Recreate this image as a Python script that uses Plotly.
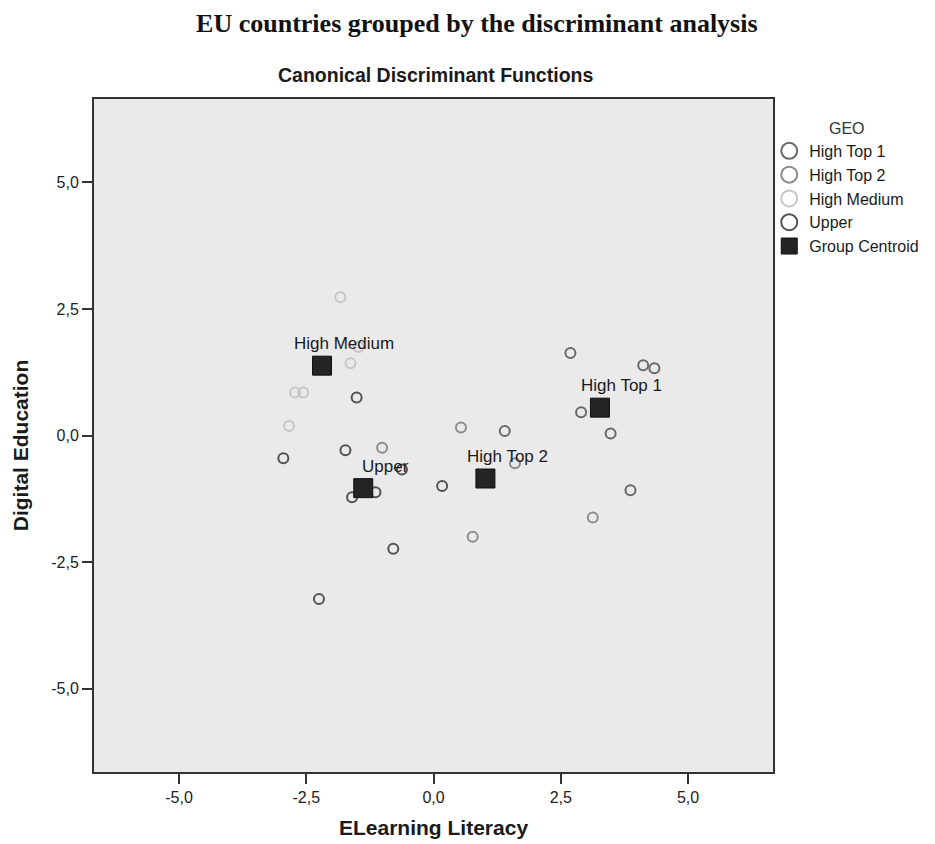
import plotly.graph_objects as go

# ---- data ----
groups = ["High Top 1", "High Top 2", "High Medium", "Upper"]

ht1_x = [2.69, 4.12, 4.34, 2.90, 3.48, 3.87, 1.40]
ht1_y = [1.63, 1.39, 1.33, 0.46, 0.04, -1.08, 0.09]

ht2_x = [-1.01, 0.54, 1.60, 0.77, 3.13]
ht2_y = [-0.24, 0.16, -0.55, -2.00, -1.62]

hm_x = [-1.83, -1.63, -1.47, -2.72, -2.56, -2.84]
hm_y = [2.73, 1.43, 1.75, 0.85, 0.85, 0.19]

up_x = [-2.95, -1.73, -1.60, -1.14, -0.62, 0.17, -0.79, -2.25, -1.51]
up_y = [-0.45, -0.29, -1.22, -1.12, -0.67, -1.00, -2.24, -3.23, 0.75]

centroid_labels = ["High Top 1", "High Top 2", "High Medium", "Upper"]
centroid_x = [3.27, 1.02, -2.19, -1.38]
centroid_y = [0.55, -0.85, 1.38, -1.04]

tick_vals = [-5, -2.5, 0, 2.5, 5]
tick_text = ["-5,0", "-2,5", "0,0", "2,5", "5,0"]

colors = {"High Top 1": "#686868", "High Top 2": "#8c8c8c",
          "High Medium": "#c6c6c6", "Upper": "#525252"}

series = {"High Top 1": (ht1_x, ht1_y), "High Top 2": (ht2_x, ht2_y),
          "High Medium": (hm_x, hm_y), "Upper": (up_x, up_y)}

SANS = "Liberation Sans, Arial, sans-serif"

fig = go.Figure()

for g in groups:
    xs, ys = series[g]
    fig.add_trace(go.Scatter(
        x=xs, y=ys, mode="markers", name=g, showlegend=False,
        marker=dict(symbol="circle-open", size=10, color=colors[g],
                    line=dict(width=2, color=colors[g]))))

fig.add_trace(go.Scatter(
    x=centroid_x, y=centroid_y, mode="markers", name="Group Centroid",
    showlegend=False,
    marker=dict(symbol="square", size=19, color="#242424",
                line=dict(width=1, color="#111111"))))

# legend entries
for g in groups:
    fig.add_trace(go.Scatter(
        x=[None], y=[None], mode="markers", name=g,
        marker=dict(symbol="circle-open", size=16, color=colors[g],
                    line=dict(width=2, color=colors[g]))))
fig.add_trace(go.Scatter(
    x=[None], y=[None], mode="markers", name="Group Centroid",
    marker=dict(symbol="square", size=16, color="#242424",
                line=dict(width=1, color="#111111"))))

for lab, cx, cy in zip(centroid_labels, centroid_x, centroid_y):
    fig.add_annotation(x=cx, y=cy, text=lab, showarrow=False,
                       xshift=22, yshift=22,
                       font=dict(family=SANS, size=17, color="#1a1a1a"))

axis_common = dict(
    tickvals=tick_vals, ticktext=tick_text, showgrid=False, zeroline=False,
    showline=True, mirror=True, linecolor="#333333", linewidth=2,
    ticks="outside", ticklen=10, tickwidth=2, tickcolor="#333333",
    tickfont=dict(family=SANS, size=16, color="#222222"))

fig.update_xaxes(range=[-6.67, 6.67], **axis_common)
fig.update_yaxes(range=[-6.65, 6.65], **axis_common)

fig.add_annotation(xref="paper", yref="paper", x=0.5, y=-0.083,
                   yanchor="middle", showarrow=False,
                   text="<b>ELearning Literacy</b>",
                   font=dict(family=SANS, size=21, color="#1a1a1a"))
fig.add_annotation(xref="paper", yref="paper", x=-0.108, y=0.485,
                   xanchor="center", yanchor="middle", textangle=-90,
                   showarrow=False, text="<b>Digital Education</b>",
                   font=dict(family=SANS, size=21, color="#1a1a1a"))
fig.add_annotation(xref="paper", yref="paper", x=0.503, y=1.035,
                   yanchor="middle", showarrow=False,
                   text="<b>Canonical Discriminant Functions</b>",
                   font=dict(family=SANS, size=19.5, color="#1a1a1a"))

fig.update_layout(
    width=935, height=844,
    margin=dict(l=94, r=161, t=99, b=72),
    paper_bgcolor="white", plot_bgcolor="#eaeaea",
    title=dict(text="<b>EU countries grouped by the discriminant analysis</b>",
               x=0.51, xanchor="center", y=0.973, yanchor="middle",
               font=dict(family="Liberation Serif, Times New Roman, serif",
                         size=26, color="#111111")),
    legend=dict(x=0.993, xanchor="left", y=0.979, yanchor="top",
                title=dict(text="GEO", side="top center",
                           font=dict(family=SANS, size=16, color="#333333")),
                font=dict(family=SANS, size=16, color="#1a1a1a"),
                tracegroupgap=0, itemwidth=30,
                bgcolor="rgba(0,0,0,0)"),
    showlegend=True,
)

fig.write_html("out.html",
               config={"displayModeBar": False},
               post_script="document.body.style.margin='0px';")
